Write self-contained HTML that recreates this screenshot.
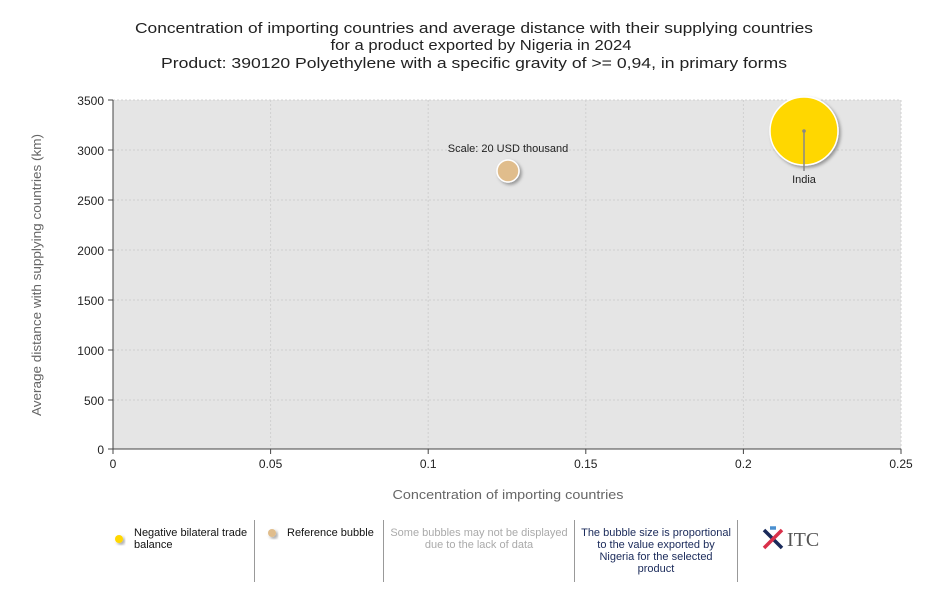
<!DOCTYPE html>
<html><head><style>
body{margin:0;background:#fff;}
svg text{font-family:"Liberation Sans",sans-serif;}
</style></head><body>
<svg width="950" height="600" xmlns="http://www.w3.org/2000/svg">
<defs><filter id="sh" x="-30%" y="-30%" width="160%" height="160%"><feDropShadow dx="2" dy="2" stdDeviation="1.5" flood-color="#000" flood-opacity="0.35"/></filter></defs>
<g font-size="14.5" fill="#222" text-anchor="middle">
<text x="474" y="33" textLength="678" lengthAdjust="spacingAndGlyphs">Concentration of importing countries and average distance with their supplying countries</text>
<text x="481" y="50" textLength="301" lengthAdjust="spacingAndGlyphs">for a product exported by Nigeria in 2024</text>
<text x="474" y="68" textLength="626" lengthAdjust="spacingAndGlyphs">Product: 390120 Polyethylene with a specific gravity of &gt;= 0,94, in primary forms</text>
</g>
<rect x="113" y="100" width="788" height="349" fill="#e5e5e5"/>
<g stroke="#d0d0d0" stroke-dasharray="2,2" stroke-width="1">
<line x1="270.6" y1="100" x2="270.6" y2="449"/><line x1="428.2" y1="100" x2="428.2" y2="449"/>
<line x1="585.8" y1="100" x2="585.8" y2="449"/><line x1="743.4" y1="100" x2="743.4" y2="449"/>
<line x1="901" y1="100" x2="901" y2="449"/>
<line x1="113" y1="100" x2="901" y2="100"/><line x1="113" y1="150" x2="901" y2="150"/>
<line x1="113" y1="200" x2="901" y2="200"/><line x1="113" y1="250" x2="901" y2="250"/>
<line x1="113" y1="300" x2="901" y2="300"/><line x1="113" y1="350" x2="901" y2="350"/>
<line x1="113" y1="400" x2="901" y2="400"/>
</g>
<g stroke="#444" stroke-width="1">
<line x1="113" y1="100" x2="113" y2="449"/><line x1="113" y1="449" x2="901" y2="449"/>
<line x1="108" y1="100" x2="113" y2="100"/><line x1="108" y1="150" x2="113" y2="150"/><line x1="108" y1="200" x2="113" y2="200"/><line x1="108" y1="250" x2="113" y2="250"/><line x1="108" y1="300" x2="113" y2="300"/><line x1="108" y1="350" x2="113" y2="350"/><line x1="108" y1="400" x2="113" y2="400"/><line x1="108" y1="449" x2="113" y2="449"/>
<line x1="113" y1="449" x2="113" y2="454"/><line x1="270.6" y1="449" x2="270.6" y2="454"/><line x1="428.2" y1="449" x2="428.2" y2="454"/><line x1="585.8" y1="449" x2="585.8" y2="454"/><line x1="743.4" y1="449" x2="743.4" y2="454"/><line x1="901" y1="449" x2="901" y2="454"/>
</g>
<g font-size="12" fill="#222" text-anchor="end">
<text x="104" y="105">3500</text><text x="104" y="155">3000</text><text x="104" y="205">2500</text><text x="104" y="255">2000</text><text x="104" y="305">1500</text><text x="104" y="355">1000</text><text x="104" y="405">500</text><text x="104" y="454">0</text>
</g>
<g font-size="12" fill="#222" text-anchor="middle">
<text x="113" y="468">0</text><text x="270.6" y="468">0.05</text><text x="428.2" y="468">0.1</text><text x="585.8" y="468">0.15</text><text x="743.4" y="468">0.2</text><text x="901" y="468">0.25</text>
</g>
<text x="508" y="499" font-size="13" fill="#666" text-anchor="middle" textLength="231" lengthAdjust="spacingAndGlyphs">Concentration of importing countries</text>
<text transform="translate(41,275) rotate(-90)" font-size="13" fill="#666" text-anchor="middle" textLength="282" lengthAdjust="spacingAndGlyphs">Average distance with supplying countries (km)</text>
<circle cx="804" cy="131" r="34" fill="#ffd700" stroke="#fff" stroke-width="1.5" filter="url(#sh)"/>
<line x1="804" y1="131" x2="804" y2="171" stroke="#888" stroke-width="1.5"/>
<circle cx="804" cy="131" r="1.8" fill="#888"/>
<text x="804" y="183" font-size="11" fill="#222" text-anchor="middle">India</text>
<circle cx="508" cy="171" r="11" fill="#e0bd8c" stroke="#fff" stroke-width="1.5" filter="url(#sh)"/>
<text x="508" y="152" font-size="11" fill="#222" text-anchor="middle">Scale: 20 USD thousand</text>
<g stroke="#999" stroke-width="1">
<line x1="254.5" y1="520" x2="254.5" y2="582"/><line x1="383.5" y1="520" x2="383.5" y2="582"/><line x1="574.5" y1="520" x2="574.5" y2="582"/><line x1="737.5" y1="520" x2="737.5" y2="582"/>
</g>
<circle cx="119" cy="539" r="4" fill="#ffd700" filter="url(#sh)"/>
<circle cx="272" cy="533" r="4" fill="#e0bd8c" filter="url(#sh)"/>
<g font-size="11" fill="#111">
<text x="134" y="536">Negative bilateral trade</text><text x="134" y="548">balance</text>
<text x="287" y="536">Reference bubble</text>
</g>
<g font-size="11" fill="#aaa" text-anchor="middle"><text x="479" y="536">Some bubbles may not be displayed</text><text x="479" y="548">due to the lack of data</text></g>
<g font-size="11" fill="#1a2a5a" text-anchor="middle"><text x="656" y="536">The bubble size is proportional</text><text x="656" y="548">to the value exported by</text><text x="656" y="560">Nigeria for the selected</text><text x="656" y="572">product</text></g>
<g stroke-width="3.5">
<line x1="764" y1="530" x2="782" y2="548" stroke="#1a2a5a"/><line x1="782" y1="530" x2="764" y2="548" stroke="#d9304a"/>
<line x1="770" y1="528" x2="776" y2="528" stroke="#4a90d0"/>
</g>
<text x="787" y="546" font-size="20" fill="#555" style="font-family:'Liberation Serif',serif">ITC</text>
</svg>
</body></html>
